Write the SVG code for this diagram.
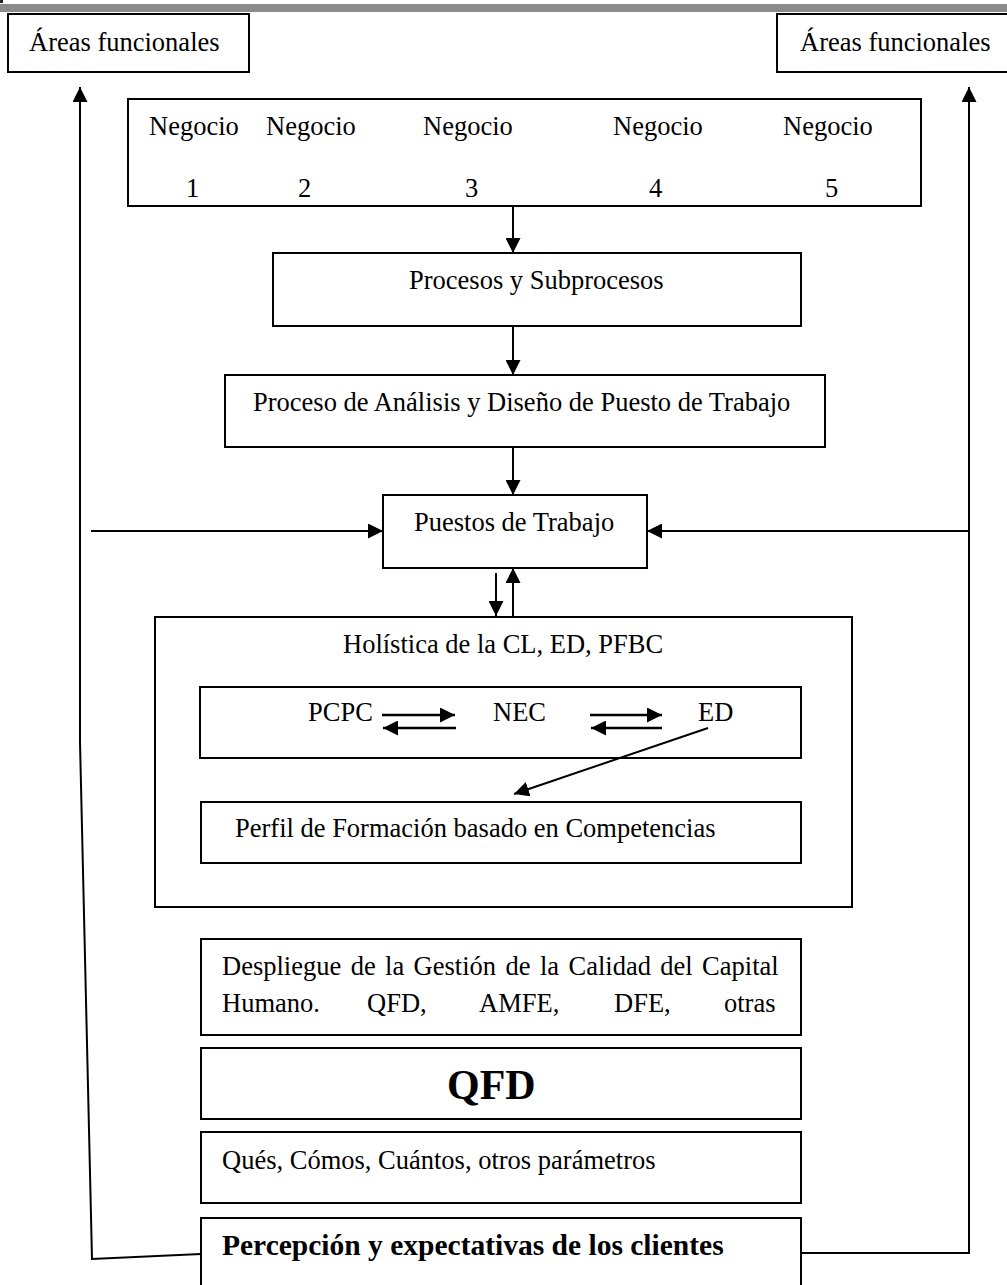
<svg xmlns="http://www.w3.org/2000/svg" width="1007" height="1285" viewBox="0 0 1007 1285">
<style>
.box{fill:#fff;stroke:#000;stroke-width:2}
.t{font-family:"Liberation Serif","Times New Roman",serif;font-size:26.5px;fill:#000}
.b{font-weight:bold}
.c{fill:none;stroke:#000;stroke-width:2}
.ca{fill:none;stroke:#000;stroke-width:2;marker-end:url(#ah)}
.cb{stroke-width:2.6}
</style>
<defs>
<marker id="ah" markerUnits="userSpaceOnUse" markerWidth="16" markerHeight="15" refX="15" refY="7.5" orient="auto" viewBox="0 0 16 15">
<path d="M0,0 L15,7.5 L0,15 z" fill="#000"/>
</marker>
</defs>
<rect x="0" y="0" width="1007" height="1285" fill="#fff"/>
<rect x="0" y="4" width="1007" height="8" fill="#8a8a8a"/>
<rect x="0" y="0" width="3" height="3" fill="#222"/>

<g id="connectors">
<line class="ca" x1="80" y1="742" x2="80" y2="87"/>
<polyline class="c" points="80,742 92,1259 201,1254"/>
<polyline class="ca" points="801,1253 969,1253 969,87"/>
<line class="ca" x1="969" y1="531" x2="647" y2="531"/>
<line class="ca" x1="91" y1="531" x2="383" y2="531"/>
<line class="ca" x1="513" y1="206" x2="513" y2="253"/>
<line class="ca" x1="513" y1="326" x2="513" y2="375"/>
<line class="ca" x1="513" y1="447" x2="513" y2="495"/>
<line class="ca" x1="496" y1="573" x2="496" y2="616"/>
<line class="ca" x1="513" y1="616" x2="513" y2="568"/>
</g>

<g id="areas-left"><rect class="box" x="8" y="14" width="241" height="58"/><text class="t" x="29" y="51">Áreas funcionales</text></g>
<g id="areas-right"><rect class="box" x="777" y="14" width="240" height="58"/><text class="t" x="800" y="51">Áreas funcionales</text></g>
<g id="negocios"><rect class="box" x="128" y="99" width="793" height="107"/>
<text class="t" x="149" y="135">Negocio</text><text class="t" x="266" y="135">Negocio</text><text class="t" x="423" y="135">Negocio</text><text class="t" x="613" y="135">Negocio</text><text class="t" x="783" y="135">Negocio</text>
<text class="t" x="186" y="197">1</text><text class="t" x="298" y="197">2</text><text class="t" x="465" y="197">3</text><text class="t" x="649" y="197">4</text><text class="t" x="825" y="197">5</text>
</g>
<g id="procesos"><rect class="box" x="273" y="253" width="528" height="73"/><text class="t" x="409" y="289">Procesos y Subprocesos</text></g>
<g id="analisis"><rect class="box" x="225" y="375" width="600" height="72"/><text class="t" x="253" y="411">Proceso de Análisis y Diseño de Puesto de Trabajo</text></g>
<g id="puestos"><rect class="box" x="383" y="495" width="264" height="73"/><text class="t" x="414" y="531">Puestos de Trabajo</text></g>
<g id="holistica"><rect class="box" x="155" y="617" width="697" height="290"/><text class="t" x="343" y="653">Holística de la CL, ED, PFBC</text>
<g id="ciclo"><rect class="box" x="200" y="687" width="601" height="71"/>
<text class="t" x="308" y="721">PCPC</text><text class="t" x="493" y="721">NEC</text><text class="t" x="698" y="721">ED</text>
<g id="ciclo-connectors">
<line class="ca cb" x1="382" y1="715" x2="455" y2="715"/>
<line class="ca cb" x1="456" y1="728" x2="383" y2="728"/>
<line class="ca cb" x1="590" y1="715" x2="662" y2="715"/>
<line class="ca cb" x1="662" y1="728" x2="591" y2="728"/>
<line class="ca" x1="708" y1="728" x2="514" y2="794"/>
</g>
</g>
<g id="perfil"><rect class="box" x="201" y="802" width="600" height="61"/><text class="t" x="235" y="837">Perfil de Formación basado en Competencias</text></g>
</g>
<g id="despliegue"><rect class="box" x="201" y="939" width="600" height="96"/>
<text class="t" x="222" y="975" style="word-spacing:2.8px">Despliegue de la Gestión de la Calidad del Capital</text>
<text class="t" y="1012"><tspan x="222">Humano.</tspan><tspan x="367">QFD,</tspan><tspan x="479">AMFE,</tspan><tspan x="614">DFE,</tspan><tspan x="724">otras</tspan></text>
</g>
<g id="qfd"><rect class="box" x="201" y="1048" width="600" height="71"/><text class="t b" x="447" y="1099" style="font-size:42px">QFD</text></g>
<g id="ques"><rect class="box" x="201" y="1132" width="600" height="71"/><text class="t" x="222" y="1169">Qués, Cómos, Cuántos, otros parámetros</text></g>
<g id="percepcion"><rect class="box" x="201" y="1218" width="600" height="80"/><text class="t b" x="222" y="1255" style="font-size:29.5px">Percepción y expectativas de los clientes</text></g>
</svg>
